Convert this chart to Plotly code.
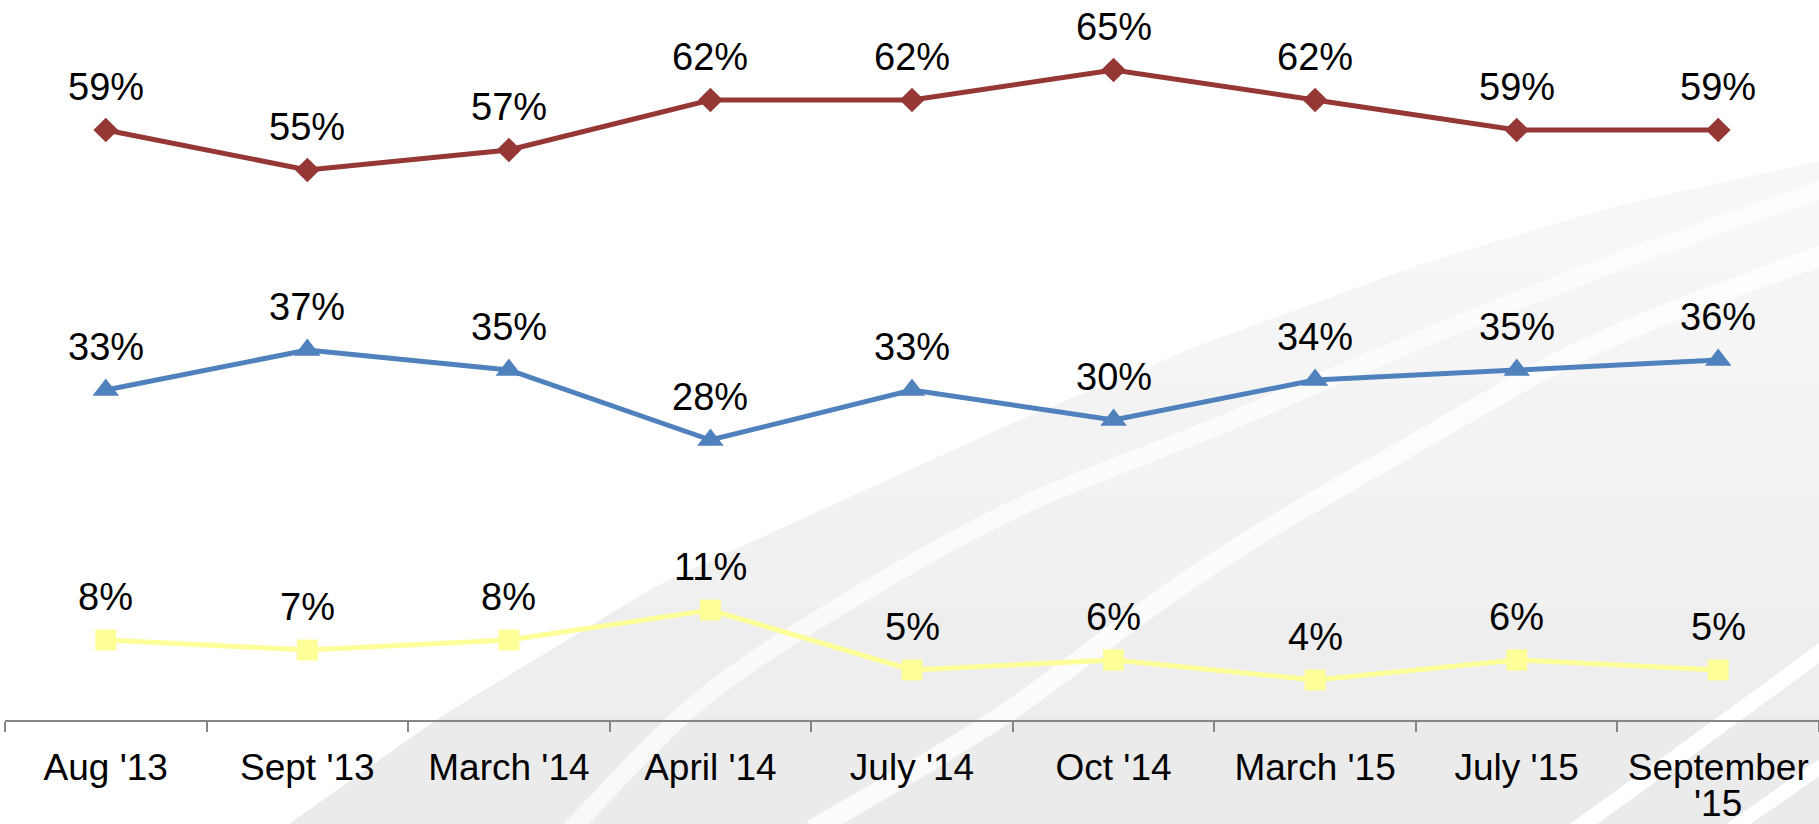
import plotly.graph_objects as go
import numpy as np

# ---------------- data ----------------
categories = ["Aug '13", "Sept '13", "March '14", "April '14", "July '14",
              "Oct '14", "March '15", "July '15", "September '15"]
tick_labels = ["Aug '13", "Sept '13", "March '14", "April '14", "July '14",
               "Oct '14", "March '15", "July '15", "September"]
tick_second_line = ["", "", "", "", "", "", "", "", "'15"]
series_red = [59, 55, 57, 62, 62, 65, 62, 59, 59]
series_blue = [33, 37, 35, 28, 33, 30, 34, 35, 36]
series_yellow = [8, 7, 8, 11, 5, 6, 4, 6, 5]

# ---------------- layout geometry ----------------
W, H = 1819, 824
L, R, T, B = 4.6, 1819.0, 20.0, 720.0
FONT = "Liberation Sans, Arial, sans-serif"


def px(x, y):
    return ((x - L) / (R - L), (B - y) / (B - T))


def smooth_path(points):
    """Catmull-Rom through pixel points -> SVG path in paper coords."""
    pts = [np.array(px(*p)) for p in points]
    d = "M{:.5f},{:.5f}".format(*pts[0])
    for i in range(len(pts) - 1):
        p0 = pts[i - 1] if i > 0 else pts[i]
        p1 = pts[i]
        p2 = pts[i + 1]
        p3 = pts[i + 2] if i + 2 < len(pts) else pts[i + 1]
        c1 = p1 + (p2 - p0) / 6.0
        c2 = p2 - (p3 - p1) / 6.0
        d += " C{:.5f},{:.5f} {:.5f},{:.5f} {:.5f},{:.5f}".format(*c1, *c2, *p2)
    return d


shapes = []
# gray swoosh region (banded to imitate a soft gradient)
boundary = [(280, 830), (440, 717), (659, 584), (863, 491), (1019, 420),
            (1200, 345), (1427, 262), (1619, 205), (1825, 160)]
band_cols = ["#f7f7f7", "#f5f5f5", "#f3f3f3", "#f1f1f1", "#eeeeee", "#ebebeb"]
by = np.array([p[1] for p in boundary], float)[::-1]
bx = np.array([p[0] for p in boundary], float)[::-1]
edges = np.linspace(160, 830, len(band_cols) + 1)
for k, col in enumerate(band_cols):
    y0, y1 = edges[k], edges[k + 1] + 1
    ys = np.linspace(y0, y1, 12)
    xs = np.interp(ys, by, bx)
    pts = list(zip(xs, ys))
    d = "M{:.5f},{:.5f}".format(*px(*pts[0]))
    for p in pts[1:]:
        d += " L{:.5f},{:.5f}".format(*px(*p))
    d += " L{:.5f},{:.5f} L{:.5f},{:.5f} Z".format(*px(1825, y1), *px(1825, y0))
    shapes.append(dict(type="path", xref="paper", yref="paper", path=d,
                       fillcolor=col, line=dict(width=0), layer="below"))

stripes = [
    ([(1830, 186), (1631, 257), (1427, 337), (1223, 424), (1019, 507),
      (850, 600), (700, 700), (570, 830)], 18, "rgba(255,255,255,0.7)"),
    ([(1830, 252), (1600, 342), (1400, 452), (1200, 572), (1000, 717),
      (812, 830)], 20, "rgba(255,255,255,0.8)"),
    ([(1575, 830), (1700, 740), (1830, 645)], 16, "white"),
    ([(1730, 830), (1830, 760)], 14, "white"),
]
for pts, w, col in stripes:
    shapes.append(dict(type="path", xref="paper", yref="paper",
                       path=smooth_path(pts), fillcolor="rgba(0,0,0,0)",
                       line=dict(color=col, width=w), layer="below"))

# ---------------- traces ----------------
fig = go.Figure()
fig.add_trace(go.Scatter(
    x=categories, y=series_red, mode="lines+markers",
    line=dict(color="#953735", width=5),
    marker=dict(symbol="diamond", size=19, color="#953735"),
    showlegend=False, hoverinfo="skip"))
fig.add_trace(go.Scatter(
    x=categories, y=series_blue, mode="lines+markers",
    line=dict(color="#4F81BD", width=5),
    marker=dict(symbol="triangle-up", size=23, color="#4F81BD"),
    showlegend=False, hoverinfo="skip"))
fig.add_trace(go.Scatter(
    x=categories, y=series_yellow, mode="lines+markers",
    line=dict(color="#FFFF99", width=5),
    marker=dict(symbol="square", size=21, color="#FFFF99"),
    showlegend=False, hoverinfo="skip"))

annotations = []
for series in (series_red, series_blue, series_yellow):
    for c, v in zip(categories, series):
        annotations.append(dict(x=c, y=v, xref="x", yref="y", text=f"{v}%",
                                showarrow=False, yshift=43, yanchor="middle",
                                font=dict(family=FONT, size=38, color="black")))
# second line of wrapped category labels
for c, t in zip(categories, tick_second_line):
    if t:
        annotations.append(dict(x=c, y=0, xref="x", yref="paper", text=t,
                                showarrow=False, yshift=-83, yanchor="middle",
                                font=dict(family=FONT, size=37, color="black")))

fig.update_layout(
    width=W, height=H,
    margin=dict(l=L, r=W - R, t=T, b=H - B, pad=0),
    paper_bgcolor="white", plot_bgcolor="rgba(0,0,0,0)",
    shapes=shapes, annotations=annotations,
    font=dict(family=FONT, color="black"),
    xaxis=dict(type="category", categoryorder="array", categoryarray=categories,
               tickmode="array", tickvals=categories, ticktext=tick_labels,
               range=[-0.5, len(categories) - 0.5], tickson="boundaries",
               ticks="outside", ticklen=10, tickwidth=1.5, tickcolor="#868686",
               showline=True, linecolor="#868686", linewidth=1.5,
               showgrid=False, zeroline=False, fixedrange=True,
               ticklabelstandoff=14,
               tickfont=dict(family=FONT, size=37, color="black")),
    yaxis=dict(range=[0, 70], visible=False, showgrid=False, zeroline=False,
               fixedrange=True),
)

fig.write_html("out.html", config={"displayModeBar": False},
               post_script="document.body.style.margin='0px';document.body.style.overflow='hidden';")
